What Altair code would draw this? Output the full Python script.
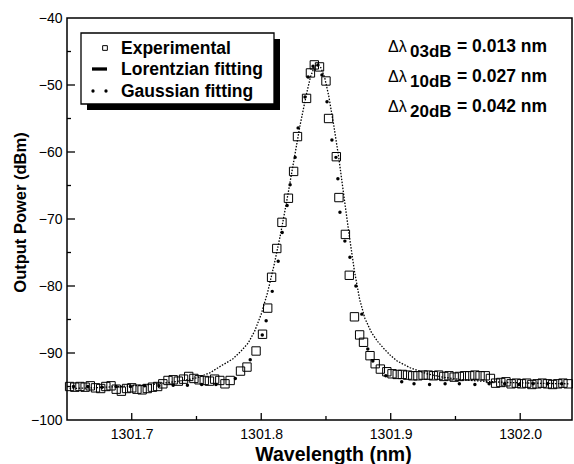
import altair as alt
import pandas as pd

# ---------------- data ----------------
exp_x = [1301.652, 1301.656, 1301.660, 1301.664, 1301.668, 1301.672, 1301.676, 1301.680, 1301.684, 1301.688,
         1301.692, 1301.696, 1301.700, 1301.704, 1301.708, 1301.712, 1301.716, 1301.720, 1301.724, 1301.728,
         1301.732, 1301.736, 1301.740, 1301.744, 1301.748, 1301.752, 1301.756, 1301.760, 1301.764, 1301.768,
         1301.772, 1301.776, 1301.784, 1301.789, 1301.796, 1301.801, 1301.805, 1301.808, 1301.812, 1301.816,
         1301.821, 1301.825, 1301.828, 1301.835, 1301.838, 1301.841, 1301.845, 1301.850, 1301.852, 1301.858,
         1301.860, 1301.865, 1301.868, 1301.872, 1301.876, 1301.879, 1301.884, 1301.888, 1301.892, 1301.897,
         1301.901, 1301.905, 1301.909, 1301.913, 1301.917, 1301.921, 1301.925, 1301.929, 1301.933, 1301.937,
         1301.941, 1301.945, 1301.949, 1301.953, 1301.957, 1301.961, 1301.965, 1301.969, 1301.973, 1301.977,
         1301.981, 1301.985, 1301.989, 1301.993, 1301.997, 1302.001, 1302.005, 1302.009, 1302.013, 1302.017,
         1302.021, 1302.025, 1302.029, 1302.033, 1302.037]
exp_y = [-95.0, -95.1, -95.0, -95.1, -94.9, -95.2, -95.3, -95.0, -94.9, -95.4,
         -95.7, -95.3, -95.2, -95.4, -95.5, -95.3, -95.1, -95.0, -94.6, -94.1,
         -94.0, -94.2, -93.9, -93.5, -93.8, -94.0, -94.1, -94.2, -93.9, -94.1,
         -94.6, -94.1, -92.7, -92.1, -89.7, -87.2, -83.3, -78.7, -74.4, -70.5,
         -66.9, -62.9, -57.7, -52.0, -48.2, -47.0, -47.3, -49.4, -55.0, -60.7,
         -66.8, -72.3, -78.4, -84.6, -87.3, -88.4, -90.4, -91.6, -92.4, -92.8,
         -93.1, -93.2, -93.2, -93.3, -93.4, -93.4, -93.3, -93.3, -93.4, -93.3,
         -93.5, -93.4, -93.6, -93.5, -93.4, -93.4, -93.3, -93.4, -93.4, -93.8,
         -94.5, -94.4, -94.3, -94.6, -94.5, -94.6, -94.5, -94.7, -94.6, -94.5,
         -94.6, -94.7, -94.6, -94.5, -94.6]

lor_x = [1301.652, 1301.670, 1301.690, 1301.710, 1301.725, 1301.740, 1301.750, 1301.760, 1301.765, 1301.770,
         1301.778, 1301.785, 1301.790, 1301.795, 1301.800, 1301.805, 1301.810, 1301.815, 1301.820, 1301.825,
         1301.830, 1301.835, 1301.838, 1301.841, 1301.843, 1301.846, 1301.849, 1301.852, 1301.856, 1301.860,
         1301.864, 1301.868, 1301.872, 1301.876, 1301.880, 1301.885, 1301.890, 1301.895, 1301.900, 1301.905,
         1301.915, 1301.928, 1301.940, 1301.955, 1301.970, 1301.990, 1302.010, 1302.038]
lor_y = [-95.3, -95.2, -95.0, -94.8, -94.5, -94.1, -93.7, -93.0, -92.4, -91.8,
         -90.9, -89.6, -88.5, -86.7, -84.2, -80.9, -76.8, -72.2, -67.0, -61.5,
         -56.0, -51.3, -48.8, -47.3, -47.0, -47.4, -48.9, -51.5, -56.0, -61.0,
         -66.8, -72.5, -77.8, -82.0, -84.8, -86.9, -88.3, -89.4, -90.4, -91.2,
         -92.2, -93.1, -93.6, -94.0, -94.2, -94.4, -94.5, -94.6]

gau_x = [1301.655, 1301.666, 1301.677, 1301.688, 1301.699, 1301.710, 1301.721, 1301.732, 1301.743, 1301.754,
         1301.765, 1301.780, 1301.7915, 1301.8008, 1301.8038, 1301.8085, 1301.8131, 1301.8162, 1301.8200, 1301.8223,
         1301.8262, 1301.8285, 1301.8338, 1301.8362, 1301.8400, 1301.8438, 1301.8469, 1301.8508, 1301.8546, 1301.8577,
         1301.8592, 1301.8608, 1301.8646, 1301.8685, 1301.8731, 1301.8777, 1301.8823, 1301.8862, 1301.8962, 1301.9085,
         1301.918, 1301.930, 1301.942, 1301.953, 1301.965, 1301.976, 1301.988, 1301.999, 1302.010, 1302.021,
         1302.032]
gau_y = [-95.0, -95.0, -95.1, -95.0, -95.0, -94.9, -94.9, -94.8, -94.8, -94.7,
         -94.7, -93.8, -91.0, -87.3, -85.2, -80.8, -76.3, -72.0, -68.0, -64.9,
         -60.8, -56.4, -51.8, -48.8, -47.2, -47.0, -48.5, -52.5, -58.2, -60.8,
         -64.0, -69.0, -73.3, -75.7, -80.0, -84.2, -89.4, -91.2, -93.4, -94.3,
         -94.6, -94.7, -94.6, -94.6, -94.7, -94.6, -94.6, -94.7, -94.6, -94.6,
         -94.6]

series_names = ["Experimental", "Lorentzian fitting", "Gaussian fitting"]
x_tick_values = [1301.7, 1301.8, 1301.9, 1302.0]
x_minor_values = [1301.75, 1301.85, 1301.95]
y_tick_values = [-100, -90, -80, -70, -60, -50, -40]
y_major_inner = [-90, -80, -70, -60, -50]
y_minor_values = [-95, -85, -75, -65, -55, -45]
ann_sub = ["03dB", "10dB", "20dB"]
ann_val = ["= 0.013 nm", "= 0.027 nm", "= 0.042 nm"]

# ---------------- styling ----------------
W, H = 505, 402
FONT = "Liberation Sans"

df_exp = pd.DataFrame({"x": exp_x, "y": exp_y})
df_lor = pd.DataFrame({"x": lor_x, "y": lor_y})
df_gau = pd.DataFrame({"x": gau_x, "y": gau_y})

xs = alt.Scale(domain=[1301.65, 1302.04], nice=False, zero=False)
ys = alt.Scale(domain=[-100, -40], nice=False, zero=False)

x_axis = alt.Axis(values=x_tick_values, format=".1f", ticks=False, tickSize=0, domain=False, grid=False,
                  labelFont=FONT, labelFontSize=14, labelColor="black", labelPadding=7,
                  title="Wavelength (nm)", titleFont=FONT, titleFontSize=19.5, titleFontWeight="bold",
                  titleColor="black", titleX=266, titleY=40, titleAlign="center", titleBaseline="alphabetic")
y_axis = alt.Axis(values=y_tick_values, format="d", ticks=False, tickSize=0, domain=False, grid=False,
                  labelFont=FONT, labelFontSize=14, labelColor="black", labelPadding=5,
                  title="Output Power (dBm)", titleFont=FONT, titleFontSize=16.5, titleFontWeight="bold",
                  titleColor="black", titleX=-42, titleY=194, titleAlign="center", titleBaseline="alphabetic",
                  titleAngle=270)


def X(f="x"):
    return alt.X(f"{f}:Q", scale=xs, axis=x_axis)


def Y(f="y"):
    return alt.Y(f"{f}:Q", scale=ys, axis=y_axis)


one = pd.DataFrame({"d": [0]})

# ---------------- legend (drawn as decoration) ----------------
LX0, LY0, LX1, LY1 = 14, 15, 207, 86   # legend box in plot-area pixels
SH = 6                                  # shadow offset
row_c = [30, 51, 73]                    # row centre lines

shadow = alt.Chart(one).mark_rect(color="black").encode(
    x=alt.value(LX0 + SH), x2=alt.value(LX1 + SH), y=alt.value(LY0 + SH), y2=alt.value(LY1 + SH))
box = alt.Chart(one).mark_rect(fill="white", stroke="black", strokeWidth=1.3).encode(
    x=alt.value(LX0), x2=alt.value(LX1), y=alt.value(LY0), y2=alt.value(LY1))
leg_sq = alt.Chart(one).mark_point(shape="square", filled=False, color="black", size=22, strokeWidth=1,
                                   opacity=1).encode(x=alt.value(38), y=alt.value(row_c[0]))
leg_line = alt.Chart(one).mark_rule(color="black", strokeWidth=3.3).encode(
    x=alt.value(25), x2=alt.value(40), y=alt.value(row_c[1]))
leg_dot1 = alt.Chart(one).mark_circle(color="black", size=11, opacity=1).encode(
    x=alt.value(26), y=alt.value(row_c[2]))
leg_dot2 = alt.Chart(one).mark_circle(color="black", size=11, opacity=1).encode(
    x=alt.value(39), y=alt.value(row_c[2]))
leg_text = []
for i, name in enumerate(series_names):
    leg_text.append(alt.Chart(one).mark_text(text=name, font=FONT, fontSize=17.5, fontWeight="bold",
                                             align="left", baseline="alphabetic", color="black")
                    .encode(x=alt.value(54), y=alt.value(row_c[i] + 6)))

# ---------------- data marks ----------------
lor = alt.Chart(df_lor).mark_line(color="black", strokeWidth=1.3, strokeDash=[1.5, 1.5]).encode(x=X(), y=Y())
gau = alt.Chart(df_gau).mark_circle(color="black", size=12, opacity=1).encode(x=X(), y=Y())
exp = alt.Chart(df_exp).mark_point(shape="square", filled=False, color="black", size=70, strokeWidth=1,
                                   opacity=1).encode(x=X(), y=Y())

# ---------------- inward ticks ----------------
xt_major = alt.Chart(pd.DataFrame({"x": x_tick_values})).mark_rule(color="black", strokeWidth=1.3).encode(
    x=X(), y=alt.value(H), y2=alt.value(H - 7))
xt_minor = alt.Chart(pd.DataFrame({"x": x_minor_values})).mark_rule(color="black", strokeWidth=1.3).encode(
    x=X(), y=alt.value(H), y2=alt.value(H - 4))
yt_major = alt.Chart(pd.DataFrame({"y": y_major_inner})).mark_rule(color="black", strokeWidth=1.3).encode(
    y=Y(), x=alt.value(0), x2=alt.value(8))
yt_minor = alt.Chart(pd.DataFrame({"y": y_minor_values})).mark_rule(color="black", strokeWidth=1.3).encode(
    y=Y(), x=alt.value(0), x2=alt.value(4))

# ---------------- annotations ----------------
ann_layers = []
for i in range(3):
    yb = 34 + 30 * i
    ann_layers.append(alt.Chart(one).mark_text(text="Δλ", font=FONT, fontSize=16, align="left",
                                               baseline="alphabetic", color="black")
                      .encode(x=alt.value(321), y=alt.value(yb)))
    ann_layers.append(alt.Chart(one).mark_text(text=ann_sub[i], font=FONT, fontSize=17, fontWeight="bold",
                                               align="left", baseline="alphabetic", color="black")
                      .encode(x=alt.value(343), y=alt.value(yb + 5)))
    ann_layers.append(alt.Chart(one).mark_text(text=ann_val[i], font=FONT, fontSize=17.5, fontWeight="bold",
                                               align="left", baseline="alphabetic", color="black")
                      .encode(x=alt.value(390), y=alt.value(yb)))

chart = alt.layer(lor, gau, exp, xt_major, xt_minor, yt_major, yt_minor,
                  shadow, box, leg_sq, leg_line, leg_dot1, leg_dot2, *leg_text, *ann_layers).properties(
    width=W, height=H,
    autosize=alt.AutoSizeParams(type="none"),
    padding={"left": 67, "top": 18, "right": 2, "bottom": 44},
    background="white",
).configure_view(stroke="black", strokeWidth=1.5)

chart.save("out.html", embed_options={"renderer": "svg", "actions": False})
